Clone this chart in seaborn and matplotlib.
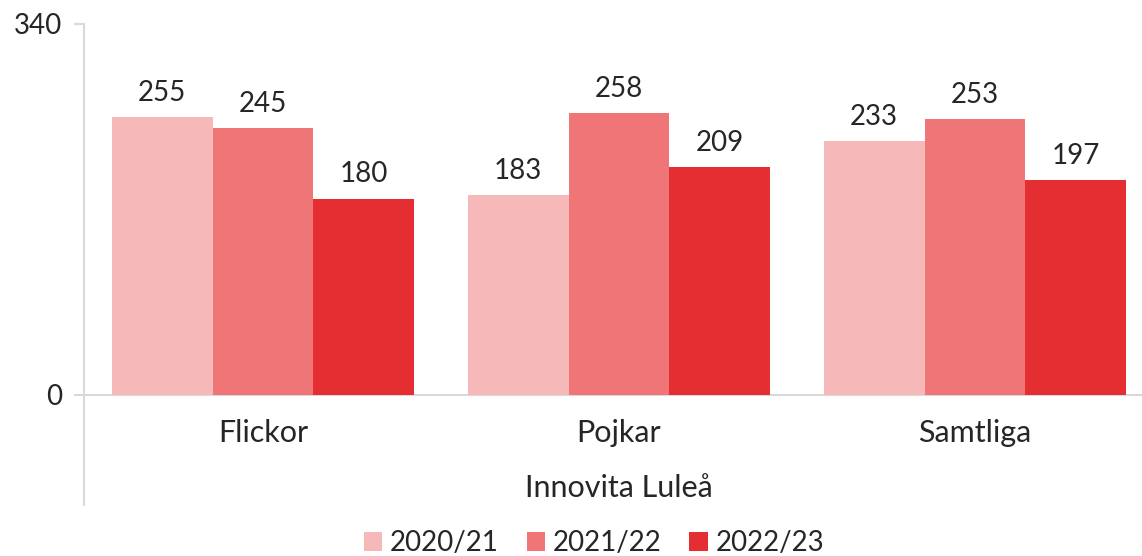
import pandas as pd
import matplotlib.pyplot as plt
import seaborn as sns

# data
categories = ['Flickor', 'Pojkar', 'Samtliga']
seasons = ['2020/21', '2021/22', '2022/23']
values_2020 = [255, 183, 233]
values_2021 = [245, 258, 253]
values_2022 = [180, 209, 197]
group_title = 'Innovita Luleå'

colors = ['#F7B8BA', '#EF7577', '#E52E32']
text_col = '#262626'
grid_col = '#D9D9D9'

df = pd.DataFrame({
    'Kategori': categories * 3,
    'Säsong': [s for s in seasons for _ in categories],
    'Antal': values_2020 + values_2021 + values_2022,
})

sns.set_style('white')
plt.rcParams['font.family'] = ['Lato', 'DejaVu Sans']

fig = plt.figure(figsize=(11.42, 5.56), dpi=100)
ax = fig.add_axes([84 / 1142, 1 - 505 / 556, 1 - 84 / 1142, (505 - 24) / 556])

sns.barplot(data=df, x='Kategori', y='Antal', hue='Säsong', order=categories,
            hue_order=seasons, palette=colors, width=0.85, saturation=1,
            linewidth=0, ax=ax, legend=True)

for cont in ax.containers:
    ax.bar_label(cont, padding=8, fontsize=20, color=text_col)

ax.set_xlim(-0.503, 2.469)
ax.set_ylim(-101, 340)
ax.set_yticks([0, 340])
ax.tick_params(axis='y', length=7, width=1.5, color=grid_col, labelsize=20,
               labelcolor=text_col, pad=9, left=True)
ax.set_xticks([])
ax.set_xlabel('')
ax.set_ylabel('')

for side in ['top', 'right', 'bottom']:
    ax.spines[side].set_visible(False)
ax.spines['left'].set_color(grid_col)
ax.spines['left'].set_linewidth(1.5)
ax.axhline(0, color=grid_col, lw=1.5, zorder=0)

# category labels and group title under the baseline
for i, cat in enumerate(categories):
    ax.text(i, -35, cat, ha='center', va='center', fontsize=22, color=text_col)
ax.text(1, -85, group_title, ha='center', va='center', fontsize=22, color=text_col)

handles, labels = ax.get_legend_handles_labels()
ax.get_legend().remove()
fig.legend(handles, labels, loc='center', bbox_to_anchor=(594 / 1142, 1 - 543 / 556),
           ncol=3, frameon=False, fontsize=20, handlelength=0.65, handleheight=0.65,
           handletextpad=0.3, columnspacing=1.0, labelcolor=text_col)

fig.savefig('out.png', dpi=100)
